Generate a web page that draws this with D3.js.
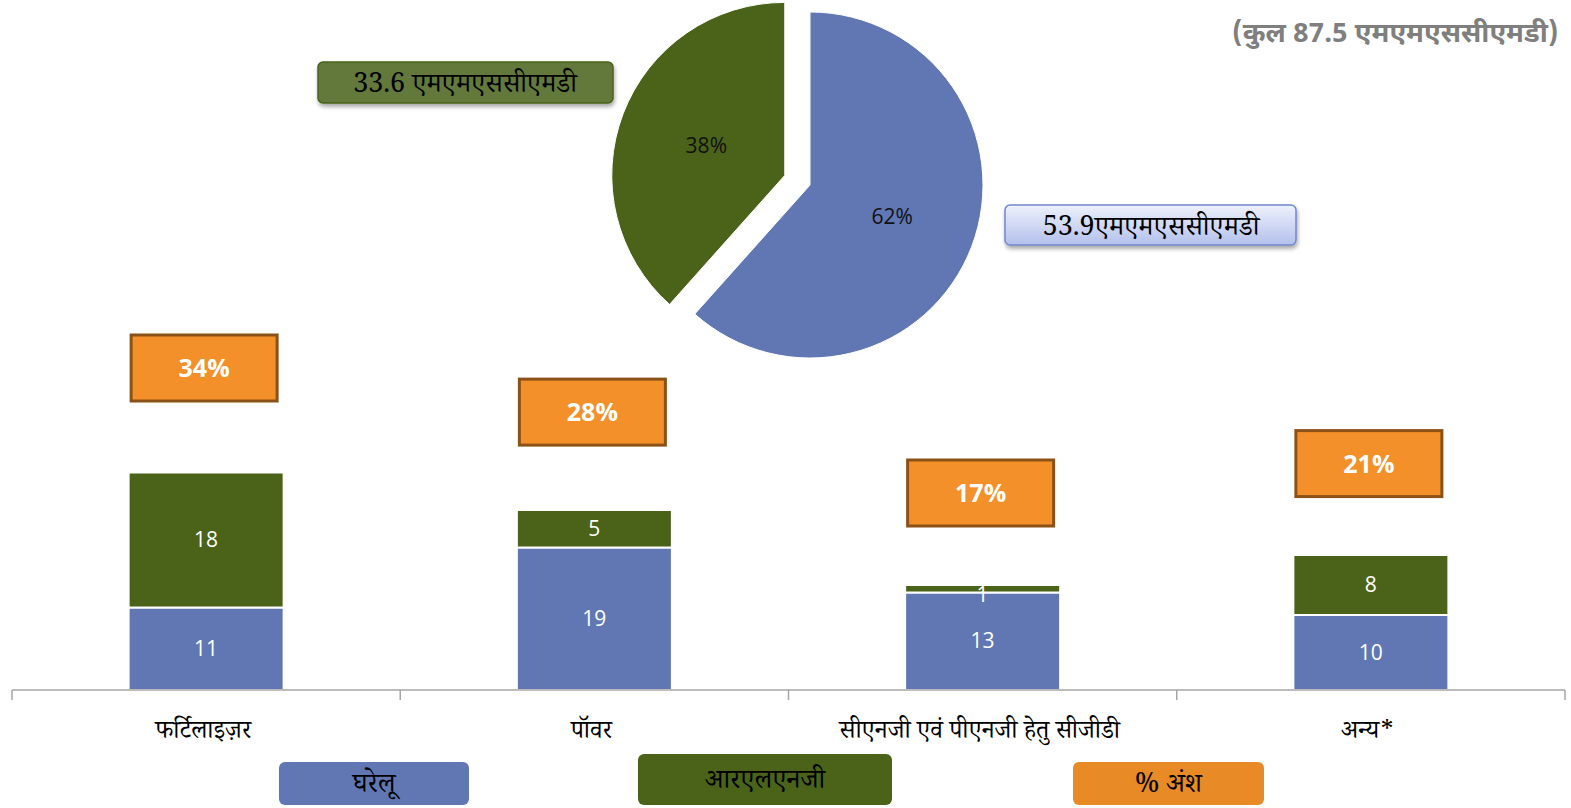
<!DOCTYPE html>
<html><head><meta charset="utf-8">
<script src="https://cdn.jsdelivr.net/npm/d3@7"></script>
<style>
body{margin:0;background:#fff;}
svg{display:block;}
</style></head>
<body><svg id="c" width="1571" height="808"></svg>
<script>
const categories = ["फर्टिलाइज़र", "पॉवर", "सीएनजी एवं पीएनजी हेतु सीजीडी", "अन्य*"];
const domestic = [11, 19, 13, 10];
const rlng = [18, 5, 1, 8];
const share = [34, 28, 17, 21];
const pieLabels = ["घरेलू", "आरएलएनजी"];
const pieValues = [53.9, 33.6];
const piePct = ["62%", "38%"];
const pieCallouts = ["53.9एमएमएससीएमडी", "33.6 एमएमएससीएमडी"];
const title = "(कुल 87.5 एमएमएससीएमडी)";
const legendLabels = ["घरेलू", "आरएलएनजी", "% अंश"];

const BLUE = "#6077b4", GREEN = "#4a6319", ORANGE = "#f39029";
const deva = "'Noto Serif Devanagari','Noto Sans Devanagari','Lohit Devanagari','Noto Sans','DejaVu Sans',sans-serif";
const svg = d3.select("#c");

// ---- bar chart ----
const x = d3.scaleBand().domain(categories).range([12, 1565]).paddingInner(0).paddingOuter(0);
const y = d3.scaleLinear().domain([0, 40]).range([690, 390]);
const y2 = d3.scaleLinear().domain([17, 34]).range([493, 368]);
const bw = 155;

const g = svg.append("g");
categories.forEach((c, i) => {
  const cx = x(c) + x.bandwidth() / 2;
  g.append("rect").attr("x", cx - bw / 2).attr("y", y(domestic[i]))
    .attr("width", bw).attr("height", y(0) - y(domestic[i]))
    .attr("fill", BLUE).attr("stroke", "#fff").attr("stroke-width", 2);
  g.append("rect").attr("x", cx - bw / 2).attr("y", y(domestic[i] + rlng[i]))
    .attr("width", bw).attr("height", y(domestic[i]) - y(domestic[i] + rlng[i]))
    .attr("fill", GREEN).attr("stroke", "#fff").attr("stroke-width", 2);
  g.append("text").attr("x", cx).attr("y", (y(0) + y(domestic[i])) / 2 + 7)
    .attr("text-anchor", "middle").attr("fill", "#fff")
    .attr("font-family", "'Open Sans',sans-serif").attr("font-size", 21).text(domestic[i]);
  g.append("text").attr("x", cx).attr("y", (y(domestic[i]) + y(domestic[i] + rlng[i])) / 2 + 7 + (rlng[i] < 3 ? 6 : 0))
    .attr("text-anchor", "middle").attr("fill", "#fff")
    .attr("font-family", "'Open Sans',sans-serif").attr("font-size", 21).text(rlng[i]);
  const sy = y2(share[i]);
  g.append("rect").attr("x", cx - 75).attr("y", sy - 33).attr("width", 146).attr("height", 66)
    .attr("fill", ORANGE).attr("stroke", "#8b5117").attr("stroke-width", 3);
  g.append("text").attr("x", cx - 2).attr("y", sy + 9).attr("text-anchor", "middle")
    .attr("fill", "#fff").attr("font-weight", "bold")
    .attr("font-family", "'Open Sans',sans-serif").attr("font-size", 25).text(share[i] + "%");
});

// axis
const axisG = svg.append("g").attr("transform", "translate(0,690)");
axisG.append("line").attr("x1", 12).attr("x2", 1565).attr("stroke", "#a6a6a6").attr("stroke-width", 1.5);
const ticks = categories.map(c => x(c)).concat([x.range()[1]]);
ticks.forEach(t => axisG.append("line").attr("x1", t).attr("x2", t).attr("y1", 0).attr("y2", 10)
  .attr("stroke", "#a6a6a6").attr("stroke-width", 1.5));
categories.forEach(c => axisG.append("text").attr("x", x(c) + x.bandwidth() / 2 - 3).attr("y", 48)
  .attr("text-anchor", "middle").attr("font-family", deva).attr("font-size", 25).attr("fill", "#000").text(c));

// ---- pie ----
const pcx = 810, pcy = 185, R = 173;
const pie = d3.pie().sort(null).value(d => d)(pieValues);
const arc = d3.arc().innerRadius(0).outerRadius(R);
const pieColors = [BLUE, GREEN];
const explode = [0, 27];
const labelR = [88, 84];
pie.forEach((p, i) => {
  const mid = (p.startAngle + p.endAngle) / 2;
  const dx = Math.sin(mid) * explode[i], dy = -Math.cos(mid) * explode[i];
  const pg = svg.append("g").attr("transform", `translate(${pcx + dx},${pcy + dy})`);
  pg.append("path").attr("d", arc(p)).attr("fill", pieColors[i]).attr("stroke", "#fff").attr("stroke-width", 1);
  pg.append("text").attr("x", Math.sin(mid) * labelR[i]).attr("y", -Math.cos(mid) * labelR[i] + 8)
    .attr("text-anchor", "middle").attr("font-family", "'Open Sans',sans-serif").attr("font-size", 21)
    .attr("fill", "#111").text(piePct[i]);
});

// callouts
const defs = svg.append("defs");
const lg = defs.append("linearGradient").attr("id", "bgrad").attr("x1", 0).attr("x2", 0).attr("y1", 0).attr("y2", 1);
lg.append("stop").attr("offset", "0%").attr("stop-color", "#eef1fb");
lg.append("stop").attr("offset", "100%").attr("stop-color", "#b3c0ec");
const flt = defs.append("filter").attr("id", "sh").attr("x", "-10%").attr("y", "-20%").attr("width", "130%").attr("height", "160%");
flt.append("feDropShadow").attr("dx", 1).attr("dy", 3).attr("stdDeviation", 2).attr("flood-color", "#000").attr("flood-opacity", 0.35);

svg.append("rect").attr("x", 1005).attr("y", 205).attr("width", 291).attr("height", 40).attr("rx", 5)
  .attr("fill", "url(#bgrad)").attr("stroke", "#7088cc").attr("stroke-width", 1.5).attr("filter", "url(#sh)");
svg.append("text").attr("x", 1151).attr("y", 235).attr("text-anchor", "middle").attr("font-family", deva)
  .attr("font-size", 27).attr("fill", "#000").text(pieCallouts[0]);
svg.append("rect").attr("x", 318).attr("y", 62).attr("width", 295).attr("height", 41).attr("rx", 5)
  .attr("fill", "#62793a").attr("stroke", "#4a6319").attr("stroke-width", 1.5).attr("filter", "url(#sh)");
svg.append("text").attr("x", 465).attr("y", 92).attr("text-anchor", "middle").attr("font-family", deva)
  .attr("font-size", 27).attr("fill", "#000").text(pieCallouts[1]);

// title
svg.append("text").attr("x", 1232).attr("y", 42).attr("font-family", "'Noto Sans Devanagari','Roboto','Noto Sans',sans-serif")
  .attr("font-weight", "bold").attr("font-size", 27.5).attr("fill", "#7f7f7f").text(title);

// legend
const legendBoxes = [
  {x: 279, y: 762, w: 190, h: 43, c: BLUE},
  {x: 638, y: 754, w: 254, h: 51, c: GREEN},
  {x: 1073, y: 762, w: 191, h: 43, c: "#e88a25"}
];
legendLabels.forEach((l, i) => {
  const b = legendBoxes[i];
  svg.append("rect").attr("x", b.x).attr("y", b.y).attr("width", b.w).attr("height", b.h).attr("rx", 6)
    .attr("fill", b.c);
  svg.append("text").attr("x", b.x + b.w / 2).attr("y", b.y + b.h / 2 + 8).attr("text-anchor", "middle")
    .attr("font-family", deva).attr("font-size", 27).attr("fill", "#000").text(l);
});
</script></body></html>
